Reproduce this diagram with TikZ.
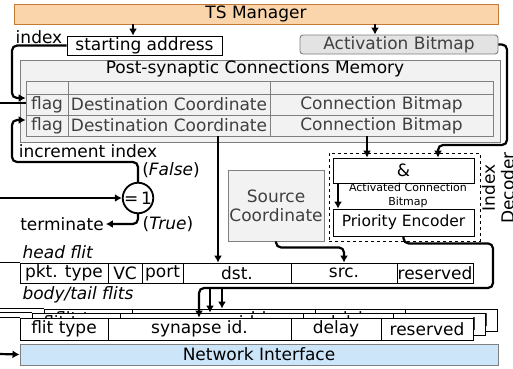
\documentclass[tikz,border=0pt]{standalone}
\usepackage{fontspec}
\setmainfont{DejaVu Sans}[ItalicFont={DejaVu Sans Oblique},BoldFont={DejaVu Sans Bold}]
\usetikzlibrary{arrows.meta,positioning}

\definecolor{tsorange}{HTML}{FAD5AC}
\definecolor{tsedge}{HTML}{C47A35}
\definecolor{memgray}{HTML}{F2F2F2}
\definecolor{edgegray}{HTML}{7F7F7F}
\definecolor{txtgray}{HTML}{404040}
\definecolor{abitgray}{HTML}{E3E3E3}
\definecolor{niblue}{HTML}{CDE5F9}

\begin{document}
\begin{tikzpicture}[x=1pt,y=-1pt,
	font=\fontsize{17}{19}\selectfont,
	conn/.style={line width=2.2pt,rounded corners=5pt},
	flow/.style={conn,-{Latex[length=7pt,width=8pt]}},
	field/.style={draw,line width=0.8pt,fill=white,inner sep=0pt},
	memcell/.style={draw=edgegray,line width=0.8pt,fill=memgray,text=txtgray,inner sep=0pt},
	graybox/.style={draw=edgegray,line width=0.9pt,fill=memgray,text=txtgray,inner sep=0pt},
	feed/.style={line width=1.5pt}]
	\useasboundingbox (0,0) rectangle (513,368);
	
	% helper points on the left edge and for the vertical arrows
	\coordinate (edgeL) at (0,0);
	\coordinate (tA) at (133,0);
	\coordinate (tB) at (375,0);
	\coordinate (tC) at (367,0);
	\coordinate (tD) at (438,0);
	\coordinate (tE) at (338,0);
	\coordinate (tF) at (218,0);
	\coordinate (tG) at (210,0);
	\coordinate (tH) at (222,0);
	\coordinate (tK) at (199,0);
	\coordinate (bus) at (493,288);
	
	% top part
	\node[draw=tsedge,fill=tsorange,line width=0.9pt,minimum width=484,minimum height=20,inner sep=0pt] (tsm) at (256,14) {TS Manager};
	\node[field,minimum width=155,minimum height=19] (saddr) at (144.5,45.5) {starting address};
	\node (idxlbl) at (39,37) {index};
	\node[draw=edgegray,fill=abitgray,text=txtgray,rounded corners=3pt,line width=0.9pt,minimum width=198,minimum height=19,inner sep=0pt] (abit) at (399,44.5) {Activation Bitmap};
	
	% memory
	\node[graybox,minimum width=480,minimum height=82] (mem) at (260,101) {};
	\node (memttl) at (255,69) {Post-synaptic Connections Memory};
	\node[memcell,minimum width=42,minimum height=13] (flag0) at (47,87.5) {};
	\node[memcell,minimum width=202,minimum height=13] (dc0) at (169,87.5) {};
	\node[memcell,minimum width=223,minimum height=13] (cb0) at (381.5,87.5) {};
	\foreach \r/\y in {1/104.5,2/125.5}{
		\node[memcell,minimum width=42,minimum height=21] (flag\r) at (47,\y) {flag};
		\node[memcell,minimum width=202,minimum height=21] (dc\r) at (169,\y) {Destination Coordinate};
		\node[memcell,minimum width=223,minimum height=21] (cb\r) at (381.5,\y) {Connection Bitmap};
	}
	
	% flag check
	\node (incr) at (88,151) {increment index};
	\node[draw,circle,line width=1.8pt,minimum size=30,inner sep=0pt] (eq) at (138,198) {=\,1};
	\node (fls) at (171,170) {(\textit{False})};
	\node (tru) at (168,224) {(\textit{True})};
	\node[inner sep=2pt] (term) at (62,224) {terminate};
	
	% index decoder
	\node[draw,dashed,line width=0.9pt,minimum width=151,minimum height=88] (idec) at (404.5,197) {};
	\node[field,minimum width=141,minimum height=25] (andb) at (403.5,170.5) {\&};
	\node[field,minimum width=141,minimum height=27,font=\fontsize{15.5}{18}\selectfont] (penc) at (403.5,222.5) {Priority Encoder};
	\node[font=\fontsize{11}{14}\selectfont,align=center] (acb) at (408,195.5) {Activated Connection\\Bitmap};
	\node[rotate=90,align=center] (idlbl) at (498,188) {Index\\Decoder};
	\node[graybox,minimum width=96,minimum height=71,align=center] (scrd) at (276,205.5) {Source\\Coordinate};
	
	% head flit
	\node (hflbl) at (58,252) {\textit{head flit}};
	\node[field,minimum width=88,minimum height=20] (pkt) at (64,273) {pkt. type};
	\node[field,minimum width=34,minimum height=20] (vc) at (125,273) {VC};
	\node[field,minimum width=41,minimum height=20] (port) at (162.5,273) {port};
	\node[field,minimum width=108,minimum height=20] (dst) at (237,273) {dst.};
	\node[field,minimum width=106,minimum height=20] (src) at (344,273) {src.};
	\node[field,minimum width=76,minimum height=20] (rsvh) at (435,273) {reserved};
	\draw[feed] (edgeL |- pkt.north west) -- (pkt.north west);
	
	% body/tail flits
	\node (bflbl) at (78,295) {\textit{body/tail flits}};
	\foreach \s/\dx/\dy in {2/24/-9,1/12/-5,0/0/0}{
		\begin{scope}[shift={(\dx,\dy)}]
			\node[field,minimum width=88,minimum height=22] (ftype\s) at (64,329) {flit type};
			\node[field,minimum width=183,minimum height=22] (syn\s) at (199.5,329) {synapse id.};
			\node[field,minimum width=90,minimum height=22] (dly\s) at (336,329) {delay};
			\node[field,minimum width=92,minimum height=22] (rsv\s) at (427,329) {reserved};
		\end{scope}
		\draw[feed] (edgeL |- ftype\s.north west) -- (ftype\s.north west);
	}
	
	\node[draw=edgegray,fill=niblue,line width=0.9pt,minimum width=478,minimum height=21,inner sep=0pt] (ni) at (259,354.5) {Network Interface};
	
	% connectors
	\draw[flow] (tsm.south -| tA) -- (saddr.north -| tA);
	\draw[flow] (tsm.south -| tB) -- (abit.north -| tB);
	\draw[flow] (saddr.west) -| (12,98) -- (flag1.west |- 0,98);
	\draw[conn] (0,103) -- (flag1.west |- 0,103);
	\draw[flow] (eq.north) |- (12,162) |- (flag2.west |- 0,120);
	\draw[flow] (0,198) -- (eq.west);
	\draw[flow] (eq.south) |- (term.east);
	\draw[flow] (cb2.south -| tC) -- (andb.north -| tC);
	\draw[flow] (abit.east) -| (507,145) -| (andb.north -| tD);
	\draw[flow] (andb.south -| tE) -- (penc.north -| tE);
	\draw[flow] (dc2.south -| tF) -- (dst.north -| tF);
	\draw[flow] (scrd.south) -- ++(0,6) -| (src.north);
	\draw[flow] (penc.south) -- ++(0,7) -| (bus) -| (syn0.north -| tK);
	\draw[flow] (bus -| tG) -- (syn1.north -| tG);
	\draw[flow] (bus -| tH) -- (syn2.north -| tH);
	\draw[flow] (0,354) -- (ni.west);
\end{tikzpicture}
\end{document}
